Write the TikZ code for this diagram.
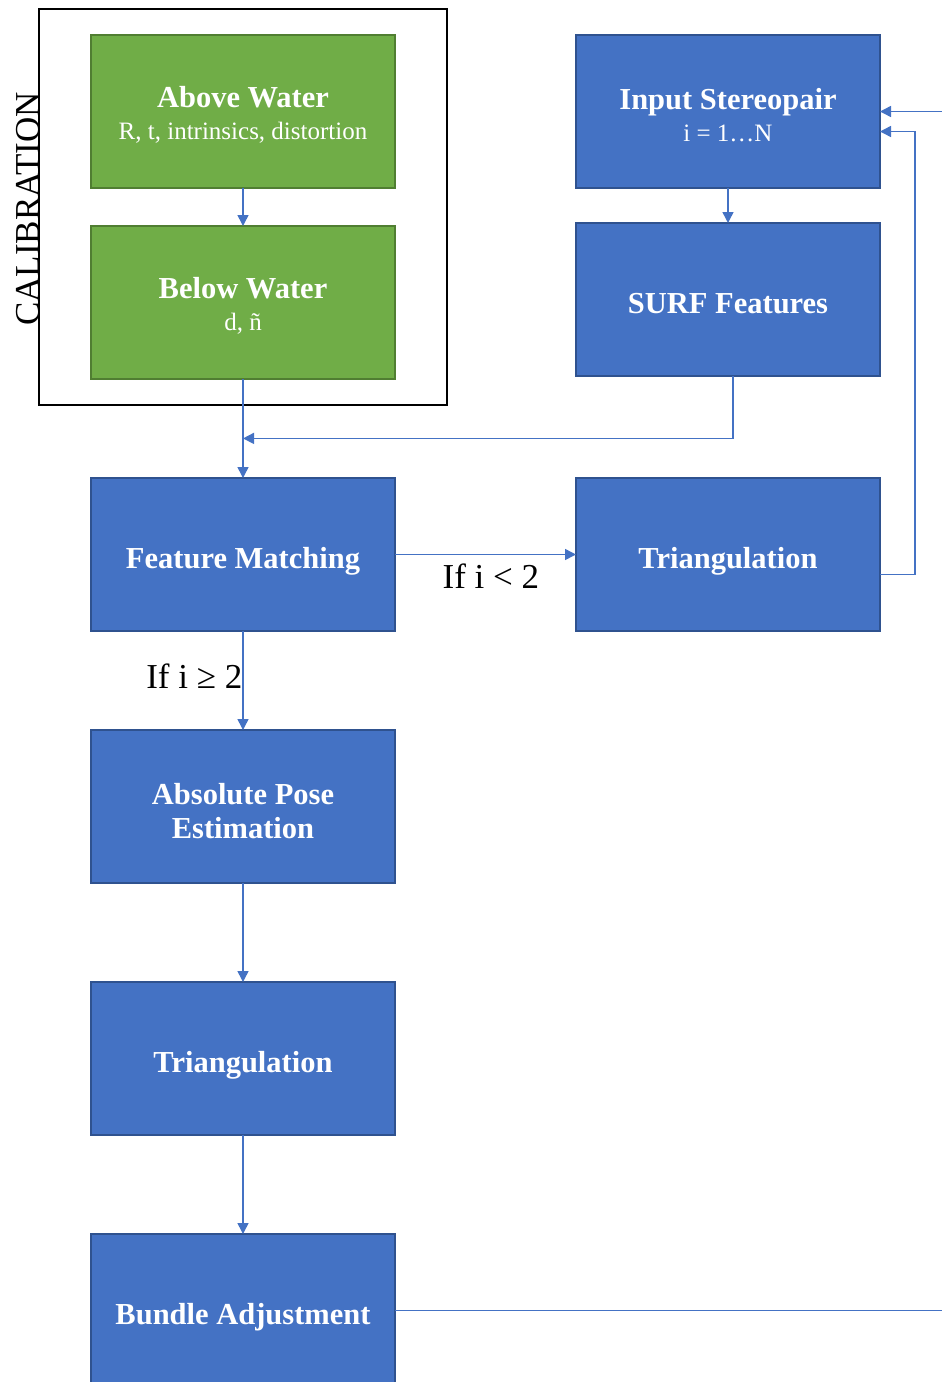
\documentclass[tikz,border=0pt]{standalone}
\usepackage{fontspec}
\setmainfont{Liberation Serif}
\usetikzlibrary{arrows.meta,positioning,calc,fit}
\definecolor{StageBlue}{HTML}{4472C4}
\definecolor{StageBlueEdge}{HTML}{2F528F}
\definecolor{CalibGreen}{HTML}{70AD47}
\definecolor{CalibGreenEdge}{HTML}{507E32}
\newcommand{\subline}[1]{{\fontsize{25}{30}\selectfont\mdseries #1}}

\begin{document}
\begin{tikzpicture}[
            x=1pt, y=-1pt,
            node distance=99pt,
            box/.style={
                    draw,
                    line width=1.2pt,
                    minimum width=304pt,
                    minimum height=153pt,
                    inner sep=0pt,
                    outer sep=0pt,
                    align=center,
                    text=white,
                    font=\fontsize{30.5}{36}\selectfont\bfseries
                },
            calib/.style={box, fill=CalibGreen, draw=CalibGreenEdge},
            stage/.style={box, fill=StageBlue, draw=StageBlueEdge},
            oneline/.style={text height=27pt, text depth=0pt},
            frame/.style={draw=black, line width=1.5pt, inner xsep=52pt, inner ysep=26pt},
            flow/.style={draw=StageBlue, line width=1.5pt, -{Triangle[length=11pt,width=11pt]}},
            cond/.style={font=\fontsize{35}{40}\selectfont, inner sep=4pt},
        ]
        \useasboundingbox (0,0) rectangle (942,1382);
        \clip (0,0) rectangle (942,1382);

        % Calibration
        \node[calib] (above) at (243,111.5) {\rule{0pt}{28pt}Above Water\\[-4pt]\subline{R, t, intrinsics, distortion}};
        \node[calib, below=38pt of above] (below) {\rule{0pt}{28pt}Below Water\\[-4pt]\subline{d, ñ}};
        \node[frame, fit=(above)(below)] (calibframe) {};
        \node[rotate=90, anchor=base, inner sep=0pt, font=\fontsize{35}{40}\selectfont]
            at ([xshift=1pt,yshift=-2pt]calibframe.west) (calibtitle) {CALIBRATION};

        % Pipeline
        \node[stage, right=181pt of above] (input) {\rule{0pt}{28pt}Input Stereopair\\[-4pt]\subline{i = 1…N}};
        \node[stage, oneline, below=35pt of input] (surf) {SURF Features};
        \node[stage, oneline, below=of below] (match) {Feature Matching};
        \node[stage, oneline, right=181pt of match] (triinit) {Triangulation};
        \node[stage, below=of match] (pose) {\rule{0pt}{31pt}Absolute Pose\\[-2pt]Estimation};
        \node[stage, oneline, below=of pose] (tri) {Triangulation};
        \node[stage, oneline, below=of tri] (bundle) {Bundle Adjustment};

        \coordinate (merge) at ($(below.south)!0.6!(match.north)$);

        % Arrows
        \draw[flow] (above) -- (below);
        \draw[flow] (input) -- (surf);
        \draw[flow] (below) -- (match);
        \draw[flow] ([xshift=5pt]surf.south) |- (merge);
        \draw[flow] (match) -- (triinit)
        node[cond, pos=0.53, below, yshift=-5pt] {If i < 2};
        \draw[flow] ([yshift=-20pt]triinit.east) -- ++(35,0) |- ([yshift=-20pt]input.east);
        \draw[flow] (match) -- (pose)
        node[cond, pos=0.46, left, inner sep=0pt] {If i ≥ 2};
        \draw[flow] (pose) -- (tri);
        \draw[flow] (tri) -- (bundle);
        \draw[flow] (bundle.east) -- ++(570,0) |- (input.east);

    \end{tikzpicture}
\end{document}
